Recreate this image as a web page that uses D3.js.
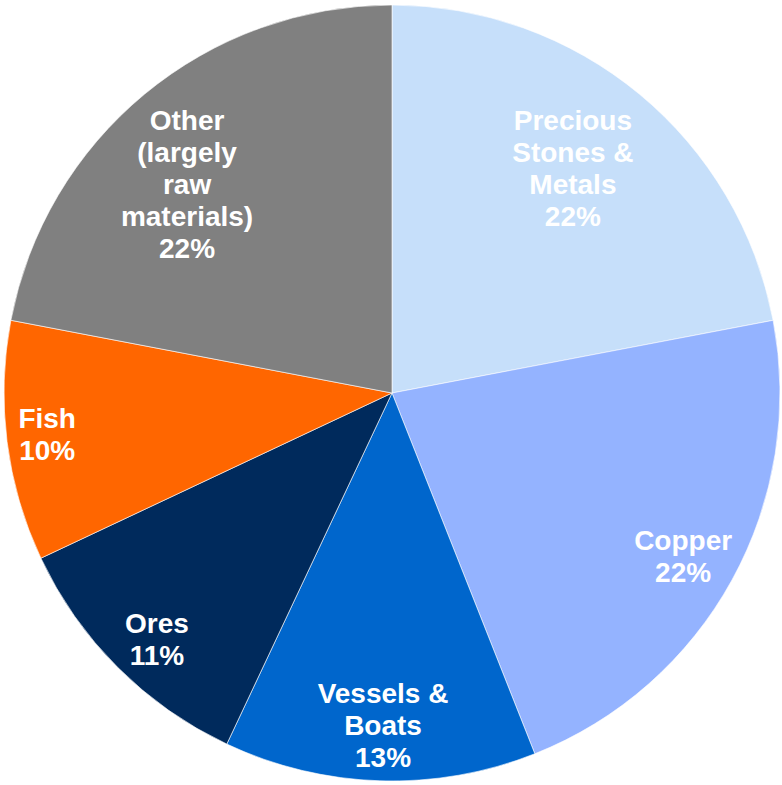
<!DOCTYPE html>
<html>
<head>
<meta charset="utf-8">
<script src="https://cdn.jsdelivr.net/npm/d3@7"></script>
<style>
  html, body { margin: 0; padding: 0; background: #fff; }
  svg { display: block; }
  .lbl { font-family: "Liberation Sans", Arial, sans-serif; font-weight: bold; fill: #fff; }
</style>
</head>
<body>
<svg id="chart" width="782" height="785"></svg>
<script>
// Export categories, clockwise from 12 o'clock
const categories = [
  ["Precious", "Stones &", "Metals"],
  ["Copper"],
  ["Vessels &", "Boats"],
  ["Ores"],
  ["Fish"],
  ["Other", "(largely", "raw", "materials)"]
];
const shares = [22, 22, 13, 11, 10, 22];
const colors = ["#C6DFFA", "#94B3FF", "#0066CC", "#002A5C", "#FF6600", "#808080"];

// Label placement: distance from the centre (fraction of radius)
// and a small angular nudge (degrees) away from the slice midline
const labelRadius = [0.744, 0.86, 0.856, 0.877, 0.895, 0.755];
const labelNudge = [-0.8, 0.45, -0.25, -1.3, 0.4, -4.8];

const width = 782, height = 785;
const cx = 392, cy = 393, r = 388;
const fontSize = 28, lineH = 32;

const svg = d3.select("#chart");
const g = svg.append("g").attr("transform", `translate(${cx},${cy})`);

const rows = shares.map((v, i) => ({
  lines: categories[i], value: v, color: colors[i],
  lr: labelRadius[i], nudge: labelNudge[i]
}));

const pie = d3.pie().value(d => d.value).sort(null);
const arc = d3.arc().innerRadius(0).outerRadius(r);
const arcs = pie(rows);

g.selectAll("path.slice")
  .data(arcs)
  .join("path")
  .attr("class", "slice")
  .attr("d", arc)
  .attr("fill", d => d.data.color)
  .attr("stroke", "#fff")
  .attr("stroke-width", 0.6);

const labels = g.selectAll("text.lbl")
  .data(arcs)
  .join("text")
  .attr("class", "lbl")
  .attr("text-anchor", "middle")
  .attr("font-size", fontSize)
  .attr("transform", d => {
    const a = (d.startAngle + d.endAngle) / 2 + d.data.nudge * Math.PI / 180;
    const rr = r * d.data.lr;
    return `translate(${rr * Math.sin(a)},${-rr * Math.cos(a)})`;
  });

labels.each(function(d) {
  const lines = d.data.lines.concat([d.data.value + "%"]);
  const n = lines.length;
  d3.select(this).selectAll("tspan")
    .data(lines)
    .join("tspan")
    .attr("x", 0)
    .attr("y", (s, i) => (i - (n - 1) / 2) * lineH)
    .attr("dy", "0.36em")
    .text(s => s);
});
</script>
</body>
</html>
